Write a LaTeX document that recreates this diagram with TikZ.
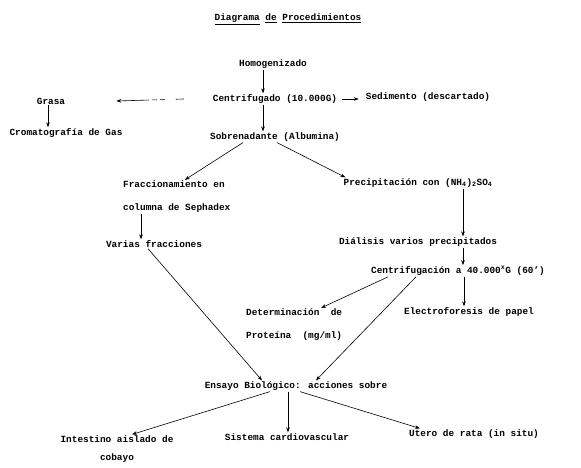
\documentclass[tikz,border=0pt]{standalone}
\usepackage{fontspec}
\setmainfont{Liberation Mono}
\usetikzlibrary{arrows.meta}

\tikzset{
	paso/.style={font=\bfseries\fontsize{9.4}{11}\selectfont, inner sep=1pt},
	pasodoble/.style={paso, align=left, font=\bfseries\fontsize{9.4}{23}\selectfont},
	flecha/.style={-{Stealth[length=5pt,width=3.6pt]}, line width=0.6pt},
}

\begin{document}
\begin{tikzpicture}[x=1pt,y=-1pt]

		\useasboundingbox (0,0) rectangle (581,468);

		\node[paso] (titulo) at (288,19) {\underline{Diagrama} \underline{de} \underline{Procedimientos}};

		% tronco principal
		\node[paso] (homog) at (273,64) {Homogenizado};
		\node[paso] (centri) at (275,99) {Centrifugado (10.000G)};
		\node[paso] (sobre) at (275,137) {Sobrenadante (Albumina)};
			\draw[flecha] ([xshift=-10pt]homog.south) -- ([xshift=-10pt]homog.south |- centri.north);
			\draw[flecha] ([xshift=-12pt]centri.south) -- ([xshift=-12pt]centri.south |- sobre.north);

		% a los lados de la centrifugacion
		\node[paso] (grasa) at (51,101) {Grasa};
		\node[paso] (cromato) at (66,133) {Cromatografía de Gas};
		\node[paso] (sedim) at (428,97) {Sedimento (descartado)};
			\draw[flecha, dash pattern=on 8pt off 11pt on 5pt off 3pt on 5pt off 3pt on 60pt]
				([xshift=-28pt]centri.west) -- ([xshift=50pt]grasa.east);
			\draw[flecha] ([xshift=4pt]centri.east) -- ([xshift=-6pt]sedim.west |- centri.east);
			\draw[flecha] ([xshift=-3pt]grasa.south) -- ([xshift=-3pt]grasa.south |- cromato.north);

		% rama izquierda
		\node[pasodoble, anchor=west] (fracc) at (122,197) {Fraccionamiento en\\columna de Sephadex};
		\node[paso] (varias) at (154,244) {Varias fracciones};
			\draw[flecha] ([xshift=-32pt]sobre.south) -- ([xshift=8pt]fracc.north);
			\draw[flecha] ([xshift=-13pt]varias.north |- fracc.south) -- ([xshift=-13pt]varias.north);

		% rama derecha
		\node[paso] (precip) at (418,183) {Precipitación con (NH\textsubscript{4})\textsubscript{2}SO\textsubscript{4}};
		\node[paso] (dial) at (418,242) {Diálisis varios precipitados};
		\node[paso] (cen40) at (458,271) {Centrifugación a 40.000\textsuperscript{x}G (60')};
		\node[pasodoble, anchor=west] (deter) at (245,325) {Determinación\ \ de\\Proteína\ \ (mg/ml)};
		\node[paso] (electro) at (469,312) {Electroforesis de papel};
			\draw[flecha] ([xshift=2pt]sobre.south) -- ([xshift=3pt]precip.north west);
			\draw[flecha] ([xshift=45pt]precip.south) -- ([xshift=45pt]precip.south |- dial.north);
			\draw[flecha] ([xshift=45pt]dial.south) -- ([xshift=45pt]dial.south |- cen40.north);
			\draw[flecha] ([xshift=-70pt]cen40.south) -- ([xshift=27pt]deter.north);
			\draw[flecha] ([xshift=6pt]cen40.south) -- ([xshift=6pt]cen40.south |- electro.north);

		% ensayo final
		\node[paso] (ensayo) at (296,386) {Ensayo Biológico: acciones sobre};
		\node[paso, align=center, font=\bfseries\fontsize{9.4}{18}\selectfont] (intest) at (117,449) {Intestino aislado de\\cobayo};
		\node[paso] (sistema) at (287,437) {Sistema cardiovascular};
		\node[paso] (utero) at (474,434) {Utero de rata (in situ)};
			\draw[flecha] ([xshift=-6pt]varias.south) -- ([xshift=-34pt]ensayo.north);
			\draw[flecha] ([xshift=-42pt]cen40.south) -- ([xshift=20pt]ensayo.north);
			\draw[flecha] ([xshift=-26pt]ensayo.south) -- ([xshift=15pt]intest.north);
			\draw[flecha] ([xshift=-8pt]ensayo.south) -- ([xshift=-8pt]ensayo.south |- sistema.north);
			\draw[flecha] ([xshift=4pt]ensayo.south) -- ([xshift=12pt]utero.north west);

\end{tikzpicture}
\end{document}
